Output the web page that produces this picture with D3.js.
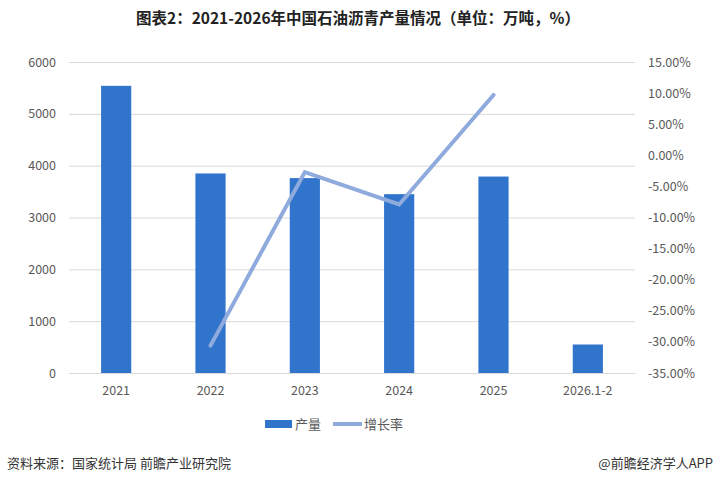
<!DOCTYPE html>
<html><head><meta charset="utf-8">
<script src="https://cdn.jsdelivr.net/npm/d3@7/dist/d3.min.js"></script>
<style>body{margin:0;background:#fff;}svg{display:block;}</style>
</head><body>
<svg id="c" width="715" height="483"></svg>
<script>
const categories = ["2021","2022","2023","2024","2025","2026.1-2"];
const output = [5540, 3850, 3760, 3450, 3790, 550];
const growth = [null, -30.6, -2.7, -7.9, 9.7, null];
const leftTicks = [0,1000,2000,3000,4000,5000,6000];
const rightTicks = [15,10,5,0,-5,-10,-15,-20,-25,-30,-35];

const svg = d3.select("#c");
const font = "'Microsoft YaHei','Noto Sans CJK SC','Noto Sans',sans-serif";
const m = {l:69, r:635, t:62, b:373};
const x = d3.scaleBand().domain(categories).range([m.l, m.r]).paddingInner(0.68).paddingOuter(0.34);
const yL = d3.scaleLinear().domain([0,6000]).range([m.b, m.t]);
const yR = d3.scaleLinear().domain([-35,15]).range([m.b, m.t]);

svg.append("text").attr("x",358).attr("y",24).attr("text-anchor","middle")
  .attr("font-family","'Noto Sans CJK SC',sans-serif").attr("font-weight","bold").attr("font-size",15.5)
  .attr("fill","#222").text("图表2：2021-2026年中国石油沥青产量情况（单位：万吨，%）");

// gridlines
const gl = d3.axisLeft(yL).tickValues(leftTicks).tickSize(-(m.r-m.l)).tickFormat("");
svg.append("g").attr("transform",`translate(${m.l},0)`).call(gl)
  .call(g=>g.select(".domain").remove())
  .call(g=>g.selectAll("line").attr("stroke","#d9d9d9"));

// left axis labels
svg.append("g").attr("transform",`translate(${m.l},0)`)
  .call(d3.axisLeft(yL).tickValues(leftTicks).tickSize(0).tickPadding(13).tickFormat(d3.format("d")))
  .call(g=>g.select(".domain").remove())
  .call(g=>g.selectAll("text").attr("font-family",font).attr("font-size",12.5).attr("fill","#595959"));

// right axis labels
svg.append("g").attr("transform",`translate(${m.r},0)`)
  .call(d3.axisRight(yR).tickValues(rightTicks).tickSize(0).tickPadding(13).tickFormat(d=>d.toFixed(2)+"%"))
  .call(g=>g.select(".domain").remove())
  .call(g=>g.selectAll("text").attr("font-family",font).attr("font-size",12.5).attr("fill","#595959"));

// bars
svg.append("g").selectAll("rect").data(categories).join("rect")
  .attr("x",d=>x(d)).attr("width",x.bandwidth())
  .attr("y",(d,i)=>yL(output[i])).attr("height",(d,i)=>yL(0)-yL(output[i]))
  .attr("fill","#3174CC");

// x axis
svg.append("g").attr("transform",`translate(0,${m.b})`)
  .call(d3.axisBottom(x).tickSize(0).tickPadding(13))
  .call(g=>g.select(".domain").attr("stroke","#d9d9d9"))
  .call(g=>g.selectAll("text").attr("font-family",font).attr("font-size",12.5).attr("fill","#595959"));

// line
const pts = categories.map((c,i)=>({c, v:growth[i]})).filter(d=>d.v!==null);
svg.append("path").datum(pts)
  .attr("d", d3.line().x(d=>x(d.c)+x.bandwidth()/2).y(d=>yR(d.v)))
  .attr("fill","none").attr("stroke","#8FAADC").attr("stroke-width",4).attr("stroke-linecap","round").attr("stroke-linejoin","miter");

// legend
const lg = svg.append("g");
lg.append("rect").attr("x",265).attr("y",420).attr("width",27).attr("height",8).attr("fill","#3174CC");
lg.append("text").attr("x",295).attr("y",429).attr("font-family",font).attr("font-size",13).attr("fill","#595959").text("产量");
lg.append("line").attr("x1",333).attr("x2",362).attr("y1",424).attr("y2",424).attr("stroke","#8FAADC").attr("stroke-width",4);
lg.append("text").attr("x",364).attr("y",429).attr("font-family",font).attr("font-size",13).attr("fill","#595959").text("增长率");

// footer
svg.append("text").attr("x",7).attr("y",468).attr("font-family",font).attr("font-size",13).attr("fill","#333").text("资料来源：国家统计局 前瞻产业研究院");
svg.append("text").attr("x",713).attr("y",468).attr("text-anchor","end").attr("font-family",font).attr("font-size",13).attr("fill","#333").text("@前瞻经济学人APP");
</script>
</body></html>
